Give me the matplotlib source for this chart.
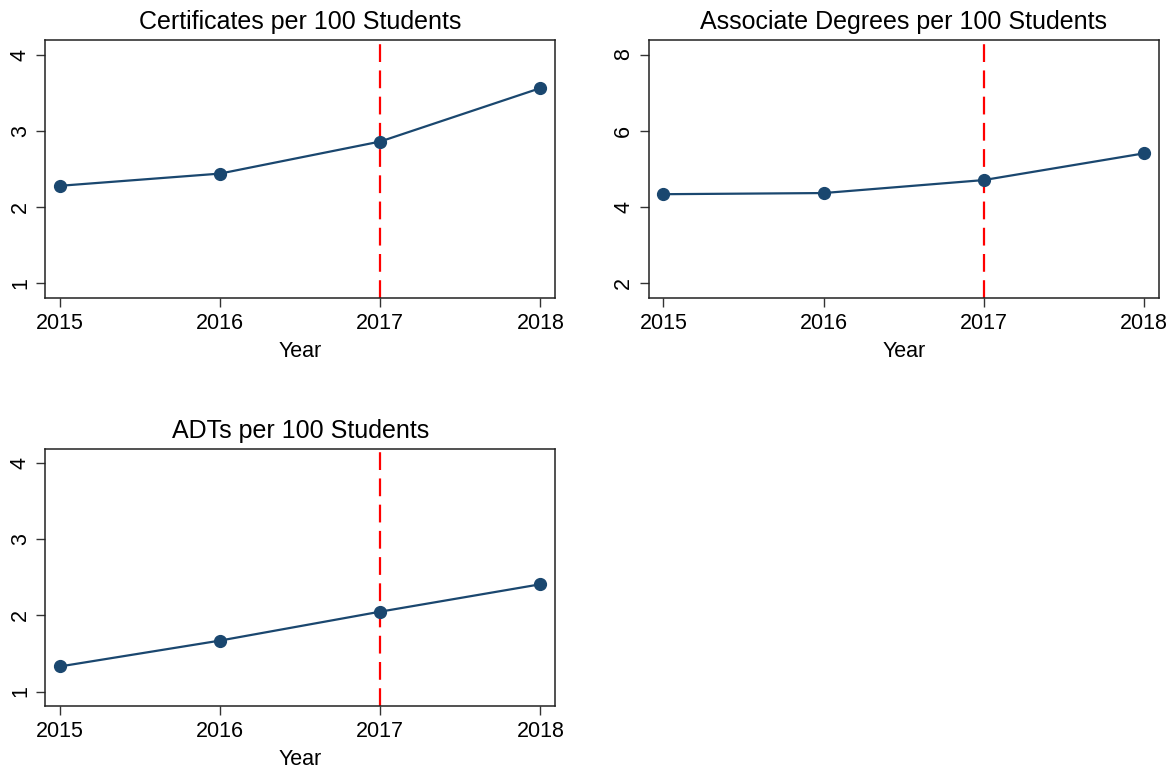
import matplotlib
matplotlib.use("Agg")
import matplotlib.pyplot as plt

plt.rcParams['font.family'] = ['Liberation Sans', 'DejaVu Sans']

years = [2015, 2016, 2017, 2018]
certificates = [2.28, 2.44, 2.86, 3.56]
associate = [4.34, 4.37, 4.71, 5.41]
adts = [1.33, 1.67, 2.05, 2.41]

titles = ["Certificates per 100 Students",
          "Associate Degrees per 100 Students",
          "ADTs per 100 Students"]
yticks = [[1, 2, 3, 4], [2, 4, 6, 8], [1, 2, 3, 4]]
ylims = [(0.81, 4.19), (1.62, 8.38), (0.81, 4.19)]
policy_year = 2017

navy = "#1a476f"

fig = plt.figure(figsize=(11.75, 7.7), dpi=100)
boxes = [[0.0387, 0.613, 0.434, 0.335],
         [0.5523, 0.613, 0.434, 0.335],
         [0.0387, 0.0831, 0.434, 0.334]]

for box, series, title, yt, yl in zip(boxes, [certificates, associate, adts],
                                      titles, yticks, ylims):
    ax = fig.add_axes(box)
    ax.plot(years, series, color=navy, lw=1.6, marker="o", ms=8.5, zorder=3)
    ax.axvline(policy_year, color="red", lw=1.6, ls=(0, (8, 3.8)), zorder=2)
    ax.set_xlim(2014.91, 2018.094)
    ax.set_ylim(*yl)
    ax.set_xticks(years)
    ax.set_yticks(yt)
    ax.set_yticklabels([str(v) for v in yt], rotation=90, va="center")
    ax.tick_params(labelsize=15.5, length=6.5, width=1, color="#333333")
    ax.tick_params(axis="x", pad=4)
    ax.tick_params(axis="y", pad=4)
    ax.set_xlabel("Year", fontsize=15.5, labelpad=5.5)
    ax.set_title(title, fontsize=18, pad=8)
    for sp in ax.spines.values():
        sp.set_color("#222222")
        sp.set_linewidth(1.1)

fig.savefig("out.png", dpi=100, facecolor="white")
